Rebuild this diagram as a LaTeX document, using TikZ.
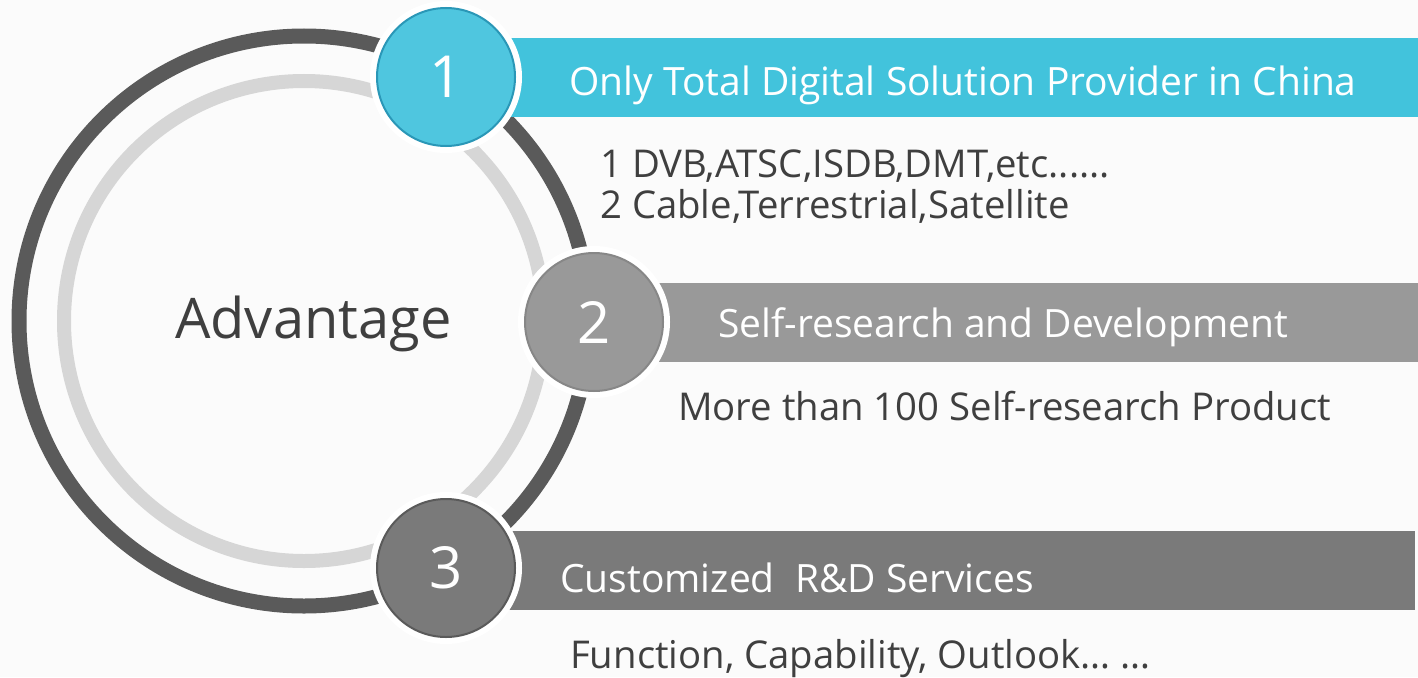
\documentclass[tikz,border=0pt]{standalone}
\usepackage{fontspec}
\setmainfont{Open Sans}
\definecolor{ringdark}{HTML}{5A5A5A}
\definecolor{ringlight}{HTML}{D6D6D6}
\definecolor{tealbar}{HTML}{42C3DC}
\definecolor{tealdisc}{HTML}{4FC6DF}
\definecolor{tealedge}{HTML}{2A97B7}
\definecolor{midgray}{HTML}{999999}
\definecolor{midedge}{HTML}{878787}
\definecolor{darkgray}{HTML}{7A7A7A}
\definecolor{darkedge}{HTML}{5A5A5A}
\definecolor{textgray}{HTML}{3F3F3F}
\definecolor{pagebg}{HTML}{FBFBFB}
\tikzset{
  numdisc/.style={circle, minimum size=138pt, inner sep=0pt, line width=2pt,
    text=white, font=\fontsize{58}{60}\selectfont,
    preaction={draw=white, line width=14pt}},
  bartext/.style={anchor=base west, inner sep=0pt, text=white,
    font=\fontsize{39}{44}\selectfont},
  notetext/.style={anchor=base west, inner sep=0pt, text=textgray,
    font=\fontsize{38.3}{42}\selectfont},
}
\begin{document}
\begin{tikzpicture}[x=1pt,y=-1pt]
\useasboundingbox (0,0) rectangle (1418,677);
\fill[pagebg] (0,0) rectangle (1418,677);

% rings
\draw[ringdark, line width=15pt] (304,321) circle (285);
\draw[ringlight, line width=14pt] (304,321) circle (240);

% bars
\fill[tealbar] (446,38) rectangle (1418,117);
\fill[midgray] (594,283) rectangle (1418,362);
\fill[darkgray] (446,531) rectangle (1415,610);

% discs
\node[numdisc, fill=tealdisc, draw=tealedge] (one) at (446,77) {1};
\node[numdisc, fill=midgray, draw=midedge] (two) at (594,322) {2};
\node[numdisc, fill=darkgray, draw=darkedge] (three) at (446,568) {3};

\node[anchor=base west, inner sep=0pt, text=textgray,
  font=\fontsize{56}{60}\selectfont] (adv) at (175,338) {Advantage};

% headings
\node[bartext] (head1) at (569,95) {Only Total Digital Solution Provider in China};
\node[bartext] (head2) at (718,337) {Self-research and Development};
\node[bartext] (head3) at (560,592) {Customized\ \ R\&D Services};

% notes
\node[notetext] (note1a) at (600,177) {1 DVB,ATSC,ISDB,DMT,etc......};
\node[notetext] (note1b) at (600,218) {2 Cable,Terrestrial,Satellite};
\node[notetext] (note2) at (678,420) {More than 100 Self-research Product};
\node[notetext] (note3) at (570,668) {Function, Capability, Outlook\dots\ \dots};
\end{tikzpicture}
\end{document}
